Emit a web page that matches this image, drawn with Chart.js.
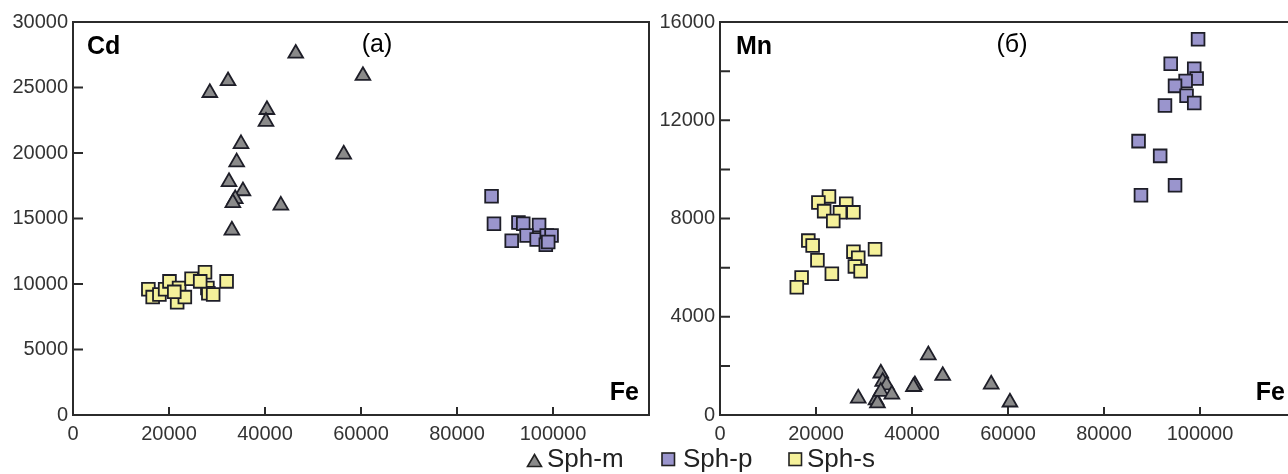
<!DOCTYPE html>
<html>
<head>
<meta charset="utf-8">
<script src="https://cdn.jsdelivr.net/npm/chart.js@4"></script>
<style>
  html, body { margin: 0; padding: 0; background: #fff; width: 1288px; height: 474px; overflow: hidden; }
  #boxA { position: absolute; left: 0; top: 0; }
  #boxB { position: absolute; left: 655px; top: 0; }
  .leg { position: absolute; top: 445px; font: 26px "Liberation Sans", Arial, sans-serif; line-height: 26px; color: #222; white-space: nowrap; }
  .ico { position: absolute; }
</style>
</head>
<body>
<canvas id="boxA" width="660" height="474"></canvas>
<canvas id="boxB" width="660" height="474"></canvas>

<svg class="ico" style="left:526px;top:453px" width="17" height="15"><polygon points="8.5,1.5 15.5,13.5 1.5,13.5" fill="#8a8a8a" stroke="#222" stroke-width="1.6"/></svg>
<span class="leg" style="left:547px">Sph-m</span>
<svg class="ico" style="left:661px;top:452px" width="15" height="15"><rect x="1" y="1" width="12.5" height="12.5" fill="#9a95cd" stroke="#222" stroke-width="1.6"/></svg>
<span class="leg" style="left:683px">Sph-p</span>
<svg class="ico" style="left:788px;top:452px" width="15" height="15"><rect x="1" y="1" width="12.5" height="12.5" fill="#f5f19a" stroke="#222" stroke-width="1.6"/></svg>
<span class="leg" style="left:807px">Sph-s</span>

<script>
// tick values
const feTicks = [0, 20000, 40000, 60000, 80000, 100000];
const cdTicks = [0, 5000, 10000, 15000, 20000, 25000, 30000];
const mnTicks = [0, 4000, 8000, 12000, 16000];
const mnMinor = [2000, 6000, 10000, 14000];

// panel (а): Fe vs Cd
const sphM_fe_a = [28500, 32300, 46400, 60400, 40400, 40200, 35000, 34100, 56400, 32500, 35400, 33800, 33300, 43300, 33100];
const sphM_cd   = [24600, 25500, 27600, 25900, 23300, 22400, 20700, 19300, 19900, 17800, 17100, 16500, 16200, 16000, 14100];
const sphP_fe_a = [87200, 87700, 92800, 93800, 97100, 91400, 94500, 96600, 98700, 99700, 98500, 99000];
const sphP_cd   = [16700, 14600, 14700, 14600, 14500, 13300, 13700, 13400, 13700, 13700, 13000, 13200];
const sphS_fe_a = [15700, 16600, 18000, 19200, 20100, 22100, 21700, 23300, 24700, 27500, 28000, 28200, 29200, 32000, 21100, 26500];
const sphS_cd   = [9600, 9000, 9200, 9600, 10200, 9700, 8600, 9000, 10400, 10900, 9700, 9300, 9200, 10200, 9400, 10200];

// panel (б): Fe vs Mn
const sphM_fe_b = [28800, 32500, 32800, 33500, 33900, 34700, 33500, 35800, 40600, 40300, 43400, 46400, 56500, 60400];
const sphM_mn   = [680, 610, 480, 1700, 1360, 1220, 950, 840, 1220, 1150, 2440, 1600, 1250, 520];
const sphP_fe_b = [99600, 93900, 98800, 99300, 97000, 94800, 97200, 98800, 92700, 87200, 91700, 94800, 87700];
const sphP_mn   = [15300, 14300, 14100, 13700, 13600, 13400, 13000, 12700, 12600, 11150, 10550, 9350, 8950];
const sphS_fe_b = [22700, 20500, 21700, 26300, 25000, 27800, 23600, 18400, 19300, 20300, 27800, 28800, 32300, 28100, 29300, 23300, 17000, 16000];
const sphS_mn   = [8900, 8650, 8300, 8600, 8250, 8250, 7900, 7100, 6900, 6300, 6650, 6400, 6750, 6050, 5850, 5750, 5600, 5200];

const FONT = '"Liberation Sans", Arial, sans-serif';

function pts(xs, ys) {
  return xs.map((x, i) => ({ x: x, y: ys[i] }));
}

function series(label, xs, ys, style, color) {
  return {
    label: label,
    data: pts(xs, ys),
    pointStyle: style,
    pointRadius: style === 'triangle' ? 8.5 : 9,
    pointBackgroundColor: color,
    pointBorderColor: '#1e1e28',
    pointBorderWidth: 1.8,
    showLine: false
  };
}

// frame, inward ticks and panel captions
const framePlugin = {
  id: 'frame',
  beforeDatasetsDraw(chart, args, opts) {
    const ctx = chart.ctx;
    const a = chart.chartArea;
    const sx = chart.scales.x, sy = chart.scales.y;
    ctx.save();
    ctx.strokeStyle = '#2b2b2b';
    ctx.lineWidth = 2;
    ctx.strokeRect(a.left, a.top, a.right - a.left, a.bottom - a.top);
    ctx.beginPath();
    sx.ticks.forEach(t => {
      if (t.value <= sx.min) return;
      const px = sx.getPixelForValue(t.value);
      ctx.moveTo(px, a.bottom);
      ctx.lineTo(px, a.bottom - 8);
    });
    sy.ticks.map(t => t.value).concat(opts.minor || []).forEach(v => {
      if (v <= sy.min || v >= sy.max) return;
      const py = sy.getPixelForValue(v);
      ctx.moveTo(a.left, py);
      ctx.lineTo(a.left + 10, py);
    });
    ctx.stroke();

    ctx.fillStyle = '#000';
    ctx.textBaseline = 'middle';
    ctx.font = 'bold 25px ' + FONT;
    ctx.textAlign = 'left';
    ctx.fillText(opts.yName, a.left + opts.nameX, a.top + 25);
    ctx.textAlign = 'right';
    ctx.fillText('Fe', a.right - opts.feX, a.bottom - 22);
    ctx.font = '25px ' + FONT;
    ctx.textAlign = 'center';
    ctx.fillText(opts.tag, a.left + opts.tagX, a.top + 23);
    ctx.restore();
  }
};

function makeChart(id, sets, yMax, yTicks, axisW, padRight, frameOpts) {
  return new Chart(document.getElementById(id), {
    type: 'scatter',
    data: { datasets: sets },
    options: {
      responsive: false,
      animation: false,
      layout: { padding: { top: 22, right: padRight, bottom: 0, left: 0 } },
      plugins: {
        legend: { display: false },
        tooltip: { enabled: false },
        frame: frameOpts
      },
      scales: {
        x: {
          type: 'linear', min: 0, max: 120000,
          grid: { display: false, drawTicks: false }, border: { display: false },
          afterBuildTicks: s => { s.ticks = feTicks.map(v => ({ value: v })); },
          afterFit: s => { s.height = 59; },
          ticks: { padding: 7, color: '#333', font: { family: FONT, size: 20 }, maxRotation: 0, autoSkip: false, callback: v => String(v) }
        },
        y: {
          type: 'linear', min: 0, max: yMax,
          grid: { display: false, drawTicks: false }, border: { display: false },
          afterBuildTicks: s => { s.ticks = yTicks.map(v => ({ value: v })); },
          afterFit: s => { s.width = axisW; },
          ticks: { padding: 5, color: '#333', font: { family: FONT, size: 20 }, autoSkip: false, callback: v => String(v) }
        }
      }
    },
    plugins: [framePlugin]
  });
}

makeChart('boxA', [
  series('Sph-m', sphM_fe_a, sphM_cd, 'triangle', '#8a8a8a'),
  series('Sph-p', sphP_fe_a, sphP_cd, 'rect', '#9a95cd'),
  series('Sph-s', sphS_fe_a, sphS_cd, 'rect', '#f5f19a')
], 30000, cdTicks, 73, 11, { yName: 'Cd', tag: '(а)', nameX: 14, tagX: 304, feX: 10, minor: [] });

makeChart('boxB', [
  series('Sph-m', sphM_fe_b, sphM_mn, 'triangle', '#8a8a8a'),
  series('Sph-p', sphP_fe_b, sphP_mn, 'rect', '#9a95cd'),
  series('Sph-s', sphS_fe_b, sphS_mn, 'rect', '#f5f19a')
], 16000, mnTicks, 65, 19, { yName: 'Mn', tag: '(б)', nameX: 16, tagX: 292, feX: 11, minor: mnMinor });
</script>
</body>
</html>
